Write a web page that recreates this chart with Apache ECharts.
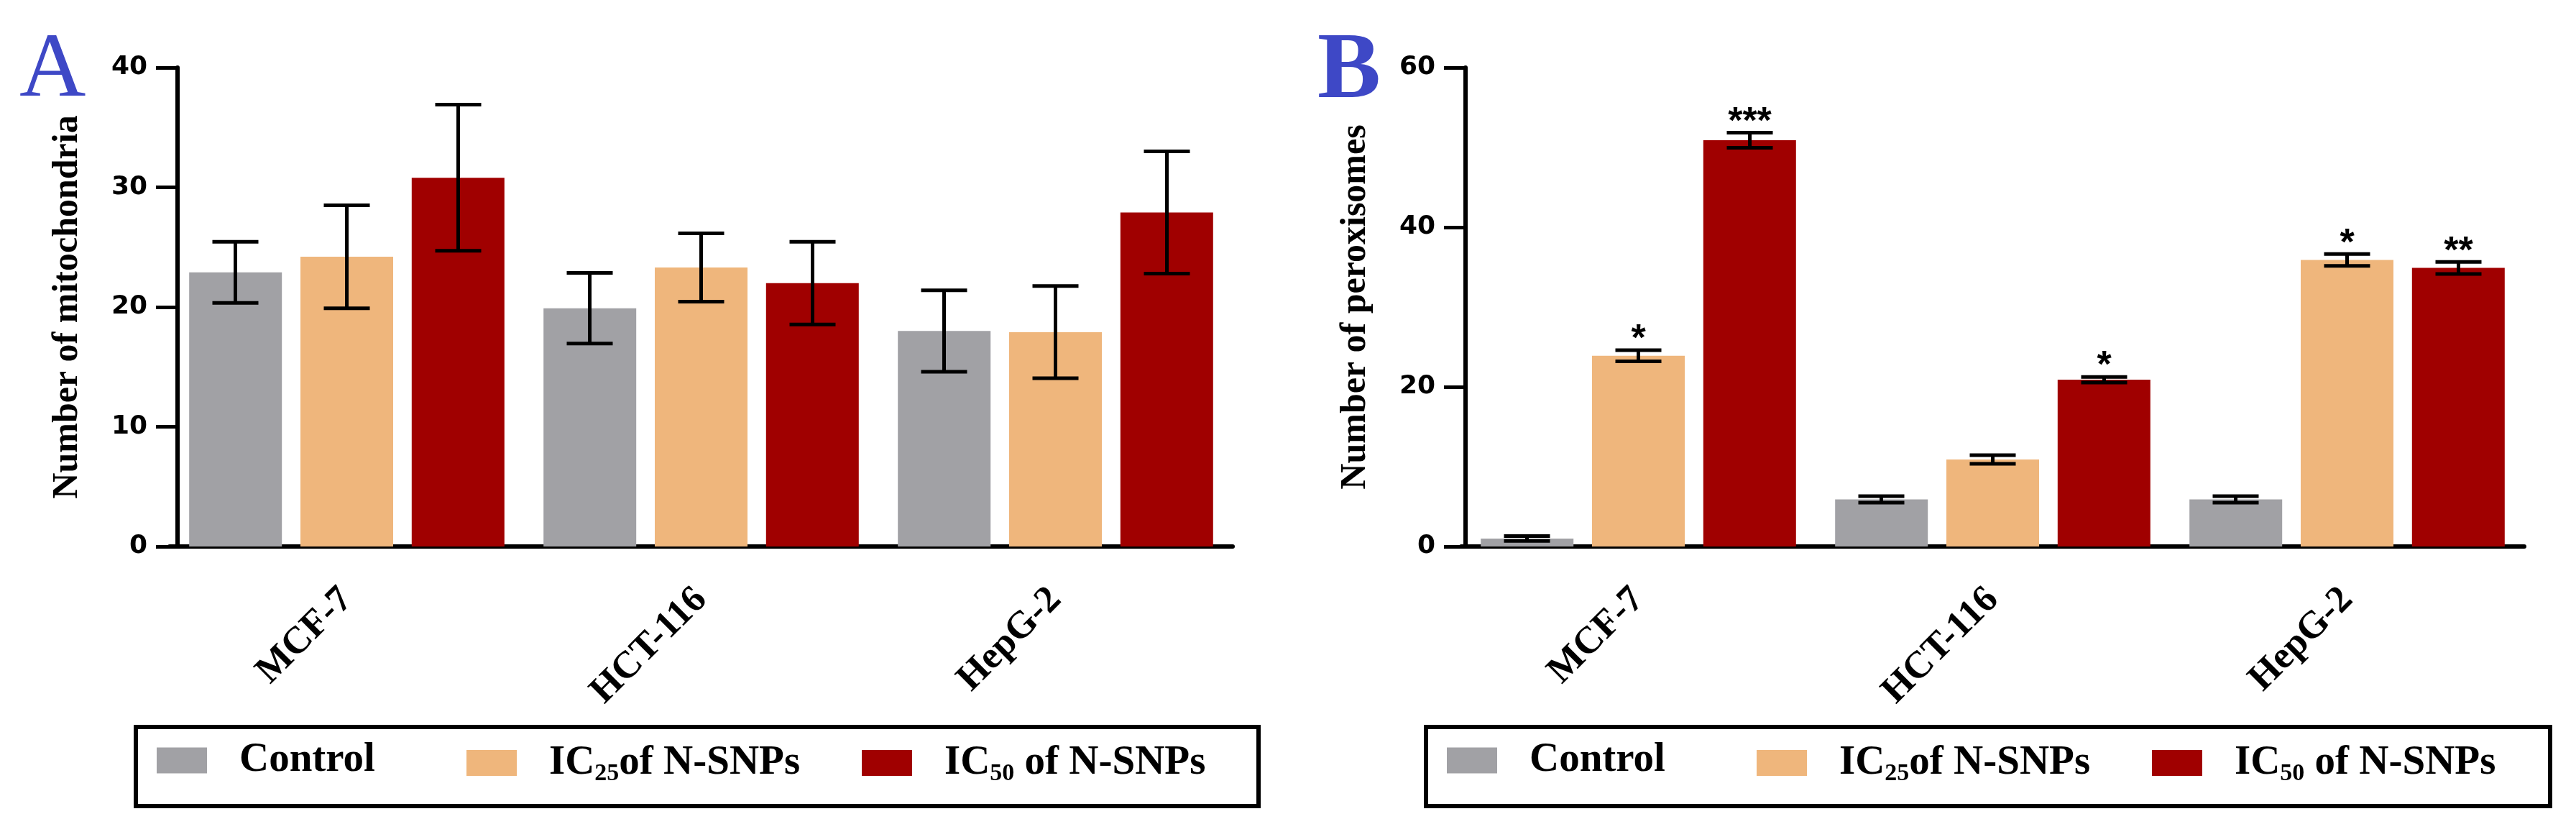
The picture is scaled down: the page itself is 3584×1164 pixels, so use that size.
<!DOCTYPE html>
<html>
<head>
<meta charset="utf-8">
<script src="https://cdn.jsdelivr.net/npm/echarts@6/dist/echarts.min.js"></script>
<style>
html, body { margin: 0; padding: 0; background: #fff; }
#main { width: 3584px; height: 1164px; }
</style>
</head>
<body>
<div id="main"></div>
<script>
var cellLines = ['MCF-7', 'HCT-116', 'HepG-2'];
var groups = ['Control', 'IC25 of N-SNPs', 'IC50 of N-SNPs'];
var colors = ['#a1a1a5', '#efb67c', '#a00000'];

// panel A - number of mitochondria (mean and error)
var mitoControl = [22.9, 19.9, 18.0];
var mitoIC25 = [24.2, 23.3, 17.9];
var mitoIC50 = [30.8, 22.0, 27.9];
var mitoControlErr = [2.55, 2.95, 3.4];
var mitoIC25Err = [4.3, 2.85, 3.85];
var mitoIC50Err = [6.1, 3.45, 5.1];
var mitoTicks = [0, 10, 20, 30, 40];

// panel B - number of peroxisomes
var peroControl = [1.0, 5.9, 5.9];
var peroIC25 = [23.9, 10.9, 35.9];
var peroIC50 = [50.9, 20.9, 34.9];
var peroControlErr = [0.3, 0.4, 0.4];
var peroIC25Err = [0.7, 0.55, 0.75];
var peroIC50Err = [0.95, 0.35, 0.75];
var peroIC25Stars = ['*', '', '*'];
var peroIC50Stars = ['***', '*', '**'];
var peroTicks = [0, 20, 40, 60];

var BAR_W = 129;
var BAR_STEP = 155;
var CAP_W = 64;
var serif = 'Liberation Serif';

var dom = document.getElementById('main');
var myChart = echarts.init(dom, null, { renderer: 'canvas' });

function errorBars(gridIdx, k, means, errs, stars) {
    var data = means.map(function (m, i) { return [i, m, errs[i]]; });
    return {
        type: 'custom',
        xAxisIndex: gridIdx,
        yAxisIndex: gridIdx,
        z: 10,
        silent: true,
        data: data,
        renderItem: function (params, api) {
            var c = api.value(0), m = api.value(1), e = api.value(2);
            var top = api.coord([c, m + e]);
            var bot = api.coord([c, m - e]);
            var x = top[0] + (k - 1) * BAR_STEP;
            var h = CAP_W / 2;
            var st = { stroke: '#000', lineWidth: 5 };
            var kids = [
                { type: 'line', shape: { x1: x, y1: top[1], x2: x, y2: bot[1] }, style: st },
                { type: 'line', shape: { x1: x - h, y1: top[1], x2: x + h, y2: top[1] }, style: st },
                { type: 'line', shape: { x1: x - h, y1: bot[1], x2: x + h, y2: bot[1] }, style: st }
            ];
            var s = stars ? stars[params.dataIndex] : '';
            if (s) {
                kids.push({
                    type: 'text', x: x, y: top[1] + 12,
                    style: { text: s, align: 'center', verticalAlign: 'bottom',
                        fontSize: 52, fontWeight: 'bold', fontFamily: 'Liberation Sans', fill: '#000' }
                });
            }
            return { type: 'group', children: kids };
        }
    };
}

function bars(gridIdx, k, vals) {
    return {
        name: groups[k],
        type: 'bar',
        xAxisIndex: gridIdx,
        yAxisIndex: gridIdx,
        barWidth: BAR_W,
        barGap: '20%',
        itemStyle: { color: colors[k] },
        data: vals
    };
}

function xAxisFor(gridIdx) {
    return {
        type: 'category',
        gridIndex: gridIdx,
        data: cellLines,
        axisLine: { lineStyle: { color: '#000', width: 6 } },
        axisTick: { alignWithLabel: true, length: 30, lineStyle: { color: '#000', width: 4 } },
        axisLabel: { rotate: 45, margin: 66, color: '#000', fontFamily: serif,
            fontWeight: 'bold', fontSize: 53 },
        splitLine: { show: false }
    };
}

function yAxisFor(gridIdx, ticks, title, off) {
    return {
        type: 'value',
        gridIndex: gridIdx,
        min: ticks[0],
        max: ticks[ticks.length - 1],
        interval: ticks[1] - ticks[0],
        offset: off,
        name: title,
        nameLocation: 'middle',
        nameGap: 128,
        nameTextStyle: { fontFamily: serif, fontWeight: 'bold', fontSize: 50, color: '#000' },
        axisLine: { show: true, lineStyle: { color: '#000', width: 6 } },
        axisTick: { show: true, length: 30, lineStyle: { color: '#000', width: 5 } },
        axisLabel: { margin: 42, color: '#000', fontFamily: 'DejaVu Sans',
            fontWeight: 'bold', fontSize: 36 },
        splitLine: { show: false }
    };
}

function legendText(name) {
    if (name === groups[0]) return '{n|Control}';
    if (name === groups[1]) return '{n|IC}{s|25}{n|of N-SNPs}';
    return '{n|IC}{s|50}{n| of N-SNPs}';
}

var legendOffsets = [29, 460, 1010];
var boxLefts = [189, 1984];
var legends = [];
boxLefts.forEach(function (bl) {
    groups.forEach(function (g, k) {
        legends.push({
            data: [g],
            left: bl + legendOffsets[k],
            top: 1029,
            padding: 0,
            icon: 'rect',
            itemWidth: 70,
            itemHeight: 36,
            selectedMode: false,
            formatter: legendText,
            textStyle: {
                padding: [0, 0, 0, 40],
                rich: {
                    n: { fontFamily: serif, fontWeight: 'bold', fontSize: 57, lineHeight: 64, color: '#000' },
                    s: { fontFamily: serif, fontWeight: 'bold', fontSize: 34, lineHeight: 34,
                        padding: [30, 0, 0, 0], color: '#000' }
                }
            }
        });
    });
});

option = {
    backgroundColor: '#fff',
    animation: false,
    title: [
        { text: 'A', left: 22, top: 30,
            textStyle: { fontFamily: serif, fontSize: 128, fontWeight: 'normal', color: '#3e48c6' } },
        { text: 'B', left: 1828, top: 30,
            textStyle: { fontFamily: serif, fontSize: 132, fontWeight: 'bold', color: '#3e48c6' } }
    ],
    legend: legends,
    grid: [
        { left: 236, top: 94, width: 1479, height: 666 },
        { left: 2033, top: 94, width: 1479, height: 666 }
    ],
    xAxis: [xAxisFor(0), xAxisFor(1)],
    yAxis: [
        yAxisFor(0, mitoTicks, 'Number of mitochondria', -11),
        yAxisFor(1, peroTicks, 'Number of peroxisomes', -6)
    ],
    graphic: [
        { type: 'rect', shape: { x: 189, y: 1011, width: 1562, height: 110 },
            style: { fill: null, stroke: '#000', lineWidth: 6 } },
        { type: 'rect', shape: { x: 1984, y: 1011, width: 1564, height: 110 },
            style: { fill: null, stroke: '#000', lineWidth: 6 } }
    ],
    series: [
        bars(0, 0, mitoControl),
        bars(0, 1, mitoIC25),
        bars(0, 2, mitoIC50),
        bars(1, 0, peroControl),
        bars(1, 1, peroIC25),
        bars(1, 2, peroIC50),
        errorBars(0, 0, mitoControl, mitoControlErr, null),
        errorBars(0, 1, mitoIC25, mitoIC25Err, null),
        errorBars(0, 2, mitoIC50, mitoIC50Err, null),
        errorBars(1, 0, peroControl, peroControlErr, null),
        errorBars(1, 1, peroIC25, peroIC25Err, peroIC25Stars),
        errorBars(1, 2, peroIC50, peroIC50Err, peroIC50Stars)
    ]
};

if (option && typeof option === 'object') {
    myChart.setOption(option, true);
}
</script>
</body>
</html>
